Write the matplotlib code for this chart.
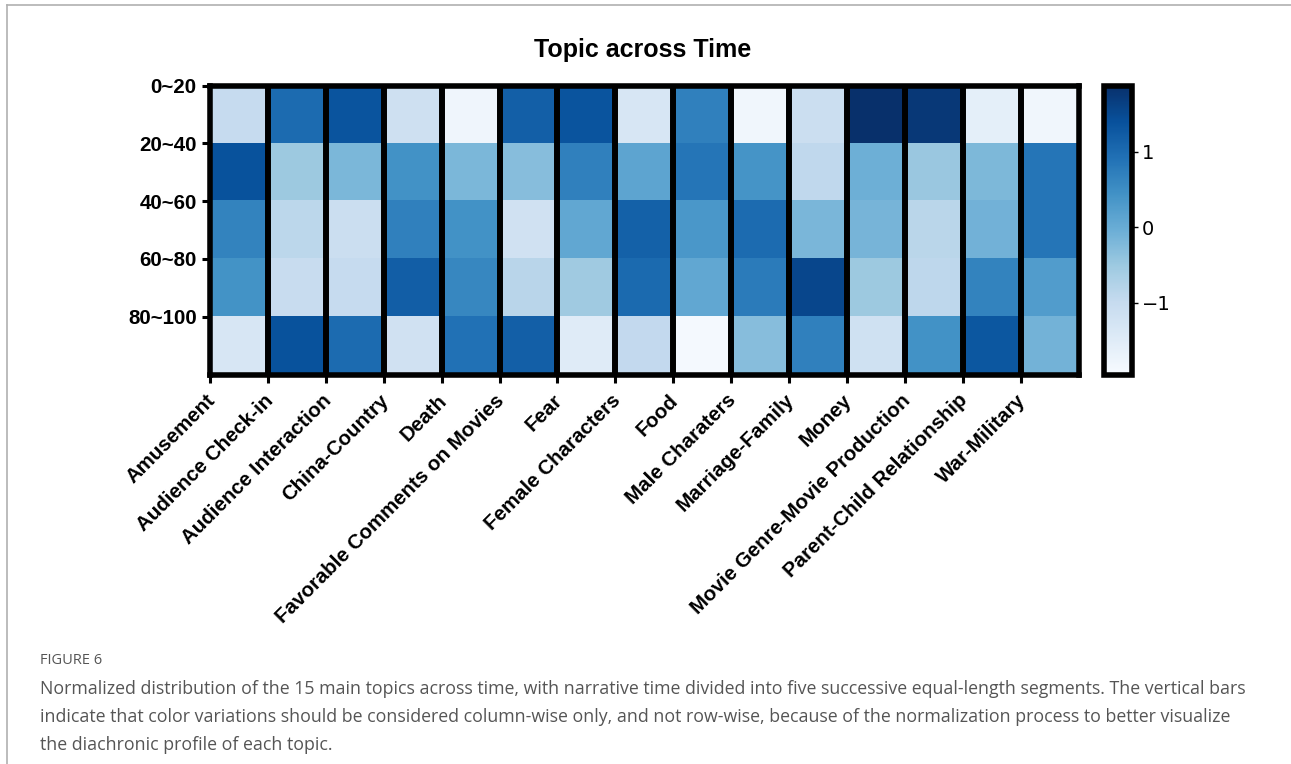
import numpy as np
import matplotlib
matplotlib.use("Agg")
import matplotlib.pyplot as plt
from matplotlib.lines import Line2D
from matplotlib.transforms import ScaledTranslation

# Topics (columns) and narrative-time segments (rows)
topics = [
    "Amusement", "Audience Check-in", "Audience Interaction", "China-Country",
    "Death", "Favorable Comments on Movies", "Fear", "Female Characters",
    "Food", "Male Charaters", "Marriage-Family", "Money",
    "Movie Genre-Movie Production", "Parent-Child Relationship", "War-Military",
]
segments = ["0~20", "20~40", "40~60", "60~80", "80~100"]

# Column-normalized topic weights, one list per segment (row)
seg_0_20 = [-1.00, 1.00, 1.35, -1.15, -1.80, 1.18, 1.35, -1.34, 0.69, -1.83, -1.10, 1.88, 1.75, -1.60, -1.82]
seg_20_40 = [1.38, -0.50, -0.19, 0.44, -0.19, -0.30, 0.69, 0.12, 0.85, 0.40, -0.92, -0.05, -0.47, -0.20, 0.85]
seg_40_60 = [0.65, -0.88, -1.10, 0.69, 0.44, -1.20, 0.08, 1.15, 0.35, 1.00, -0.17, -0.15, -0.85, -0.10, 0.85]
seg_60_80 = [0.42, -1.03, -1.00, 1.20, 0.60, -0.84, -0.53, 1.02, 0.08, 0.77, 1.55, -0.50, -0.90, 0.65, 0.25]
seg_80_100 = [-1.34, 1.38, 1.00, -1.20, 0.92, 1.18, -1.50, -0.95, -1.90, -0.30, 0.69, -1.18, 0.44, 1.30, -0.12]

cbar_ticks = [-1, 0, 1]

title_text = "Topic across Time"
fig_label = "FIGURE 6"
caption_lines = [
    "Normalized distribution of the 15 main topics across time, with narrative time divided into five successive equal-length segments. The vertical bars",
    "indicate that color variations should be considered column-wise only, and not row-wise, because of the normalization process to better visualize",
    "the diachronic profile of each topic.",
]

data = np.array([seg_0_20, seg_20_40, seg_40_60, seg_60_80, seg_80_100])
n_rows, n_cols = data.shape

W, H = 1291, 764
fig = plt.figure(figsize=(W / 100, H / 100), dpi=100)
fig.patch.set_facecolor("white")

# page frame lines
fig.add_artist(Line2D([7 / W, 1.0], [1 - 5 / H, 1 - 5 / H], color="#b0b0b0", lw=1.2, transform=fig.transFigure))
fig.add_artist(Line2D([7 / W, 7 / W], [0.0, 1 - 5 / H], color="#b0b0b0", lw=1.2, transform=fig.transFigure))

left, right = 210 / W, 1078.5 / W
top, bottom = 1 - 85.5 / H, 1 - 374.5 / H
ax = fig.add_axes([left, bottom, right - left, top - bottom])

vmin, vmax = -1.95, 1.88
im = ax.imshow(data, cmap="Blues", vmin=vmin, vmax=vmax, aspect="auto",
               extent=[0, n_cols, n_rows, 0], interpolation="nearest")

# vertical separators between topics
for c in range(1, n_cols):
    ax.axvline(c, color="black", lw=4.3)

for s in ax.spines.values():
    s.set_linewidth(4.0)
    s.set_color("black")

label_font = dict(fontsize=14.8, fontweight="bold", family="Liberation Sans")
ax.set_xlim(0, n_cols)
ax.set_ylim(n_rows, 0)
ax.set_xticks(np.arange(n_cols))
ax.set_xticklabels(topics, rotation=45, ha="right", **label_font)
ax.set_yticks(np.arange(n_rows))
ax.set_yticklabels(segments, **label_font)
ax.tick_params(axis="both", length=5.5, width=2.2, color="black", pad=4)

# nudge the slanted topic labels so their ends sit just right of each tick
shift = ScaledTranslation(9 / 100, -3 / 100, fig.dpi_scale_trans)
for lbl in ax.get_xticklabels():
    lbl.set_transform(lbl.get_transform() + shift)

fig.text((210 + 1078.5) / 2 / W - 2 / W, 1 - 50 / H, title_text, ha="center", va="center",
         fontsize=18, fontweight="bold", family="Liberation Sans")

# colorbar
cax = fig.add_axes([1104 / W, bottom, (1132 - 1104) / W, top - bottom])
cb = fig.colorbar(im, cax=cax, ticks=cbar_ticks)
cb.outline.set_linewidth(4.0)
cb.outline.set_edgecolor("black")
cax.tick_params(labelsize=14, length=4, width=1, pad=3)

# caption
fig.text(40 / W, 1 - 660 / H, fig_label, ha="left", va="center", fontsize=10.5,
         color="#555555", family="Open Sans")
for i, line in enumerate(caption_lines):
    fig.text(40 / W, 1 - (689 + 28 * i) / H, line, ha="left", va="center",
             fontsize=12.8, color="#555555", family="Open Sans")

fig.savefig("out.png", dpi=100, facecolor="white")
